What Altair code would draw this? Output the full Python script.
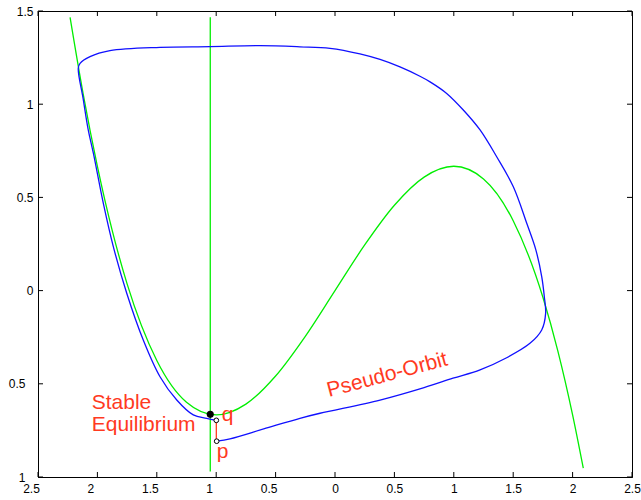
import altair as alt
import pandas as pd

# Cubic nullcline (green)
cubic_x = [-2.23, -2.12, -2.0, -1.875, -1.75, -1.5, -1.25, -1.0, -0.75, -0.5, -0.25,
           0.0, 0.25, 0.5, 0.75, 1.0, 1.25, 1.5, 1.75, 1.875, 2.0, 2.09]
cubic_y = [1.466, 1.056, 0.667, 0.322, 0.036, -0.375, -0.599, -0.667, -0.609, -0.458, -0.245,
           0.0, 0.245, 0.458, 0.609, 0.667, 0.599, 0.375, -0.036, -0.322, -0.667, -0.953]

# Vertical nullcline (green)
vnull_x = -1.05
vnull_y = [-0.97, 1.466]

# Pseudo-orbit (blue), from p around to q
orbit_x = [-0.996, -0.884, -0.60, -0.295, -0.126, 0.379, 0.75, 0.993, 1.221, 1.445,
           1.641, 1.740, 1.773, 1.762, 1.740, 1.69, 1.614, 1.501, 1.361, 1.221,
           1.080, 0.940, 0.800, 0.715, 0.547, 0.379, 0.21, -0.042, -0.295, -0.632,
           -1.052, -1.473, -1.894, -2.062, -2.146, -2.161, -2.12, -2.077, -2.034,
           -1.950, -1.866, -1.753, -1.614, -1.473, -1.332, -1.193, -1.080, -0.999]
orbit_y = [-0.808, -0.795, -0.742, -0.685, -0.658, -0.587, -0.52, -0.47, -0.425, -0.36,
           -0.283, -0.211, -0.122, -0.033, 0.075, 0.22, 0.361, 0.557, 0.718, 0.862,
           0.969, 1.058, 1.120, 1.150, 1.200, 1.240, 1.270, 1.300, 1.308, 1.314,
           1.309, 1.305, 1.287, 1.255, 1.219, 1.193, 1.03, 0.862, 0.737,
           0.468, 0.236, -0.014, -0.265, -0.462, -0.587, -0.667, -0.685, -0.696]

# Special points
eq_point = (-1.05, -0.664)
q_point = (-0.999, -0.696)
p_point = (-0.996, -0.808)

# Annotations
label_text = ["Stable", "Equilibrium", "q", "p"]
label_x = [-2.048, -2.048, -0.954, -0.996]
label_y = [-0.635, -0.753, -0.700, -0.896]
orbit_label = ("Pseudo-Orbit", -0.050, -0.571)

x_ticks = [-2.5, -2.0, -1.5, -1.0, -0.5, 0.0, 0.5, 1.0, 1.5, 2.0, 2.5]
y_ticks = [-1.0, -0.5, 0.0, 0.5, 1.0, 1.5]

W, H = 594, 466
RED = "#ff3a1f"
FONT = "Liberation Sans"

xscale = alt.Scale(domain=[-2.5, 2.5], nice=False, zero=False)
yscale = alt.Scale(domain=[-1.0, 1.5], nice=False, zero=False)

# Tick labels show magnitudes only; labels of negative values sit a little
# further left of their ticks.
x_axis = alt.Axis(
    values=x_ticks, title=None, grid=False, ticks=False, tickSize=0,
    domainColor="black", domainWidth=1, labelFont=FONT, labelFontSize=12,
    labelColor="black", labelPadding=6, labelOverlap=False, labelFlush=False,
    labelExpr="'' + abs(datum.value)",
    labelOffset={"condition": {"test": "datum.value < 0", "value": -7}, "value": 0},
)
y_axis = alt.Axis(
    values=y_ticks, title=None, grid=False, ticks=False, tickSize=0,
    domainColor="black", domainWidth=1, labelFont=FONT, labelFontSize=12,
    labelColor="black", labelOverlap=False, labelFlush=False,
    labelExpr="'' + abs(datum.value)",
    labelPadding={"condition": {"test": "datum.value < 0", "value": 13}, "value": 5},
)


def X(field="x"):
    return alt.X(f"{field}:Q", scale=xscale, axis=x_axis)


def Y(field="y"):
    return alt.Y(f"{field}:Q", scale=yscale, axis=y_axis)


cubic_df = pd.DataFrame({"x": cubic_x, "y": cubic_y})
cubic = alt.Chart(cubic_df).mark_line(
    color="#00ee00", strokeWidth=1.3, interpolate="monotone"
).encode(x=X(), y=Y())

vnull_df = pd.DataFrame({"x": [vnull_x], "y": [vnull_y[0]], "y2": [vnull_y[1]]})
vnull = alt.Chart(vnull_df).mark_rule(color="#00ee00", strokeWidth=1.3).encode(
    x=X(), y=Y(), y2="y2:Q"
)

orbit_df = pd.DataFrame({"x": orbit_x, "y": orbit_y, "i": list(range(len(orbit_x)))})
orbit = alt.Chart(orbit_df).mark_line(
    color="#1010ff", strokeWidth=1.3, interpolate="catmull-rom"
).encode(x=X(), y=Y(), order="i:Q")

seg_df = pd.DataFrame({"x": [q_point[0]], "y": [q_point[1]], "y2": [p_point[1]]})
seg = alt.Chart(seg_df).mark_rule(color=RED, strokeWidth=1.3).encode(
    x=X(), y=Y(), y2="y2:Q"
)

eq_df = pd.DataFrame({"x": [eq_point[0]], "y": [eq_point[1]]})
eq = alt.Chart(eq_df).mark_circle(color="black", size=50, opacity=1).encode(x=X(), y=Y())

open_df = pd.DataFrame({"x": [q_point[0], p_point[0]], "y": [q_point[1], p_point[1]]})
opens = alt.Chart(open_df).mark_circle(
    fill="white", stroke="black", strokeWidth=1, size=22, opacity=1
).encode(x=X(), y=Y())

lab_df = pd.DataFrame({"x": label_x, "y": label_y, "t": label_text})
labels = alt.Chart(lab_df).mark_text(
    color=RED, font=FONT, fontSize=21, align="left", baseline="alphabetic"
).encode(x=X(), y=Y(), text="t:N")

ol_df = pd.DataFrame({"x": [orbit_label[1]], "y": [orbit_label[2]], "t": [orbit_label[0]]})
orbit_text = alt.Chart(ol_df).mark_text(
    color=RED, font=FONT, fontSize=21, align="left", baseline="alphabetic", angle=345
).encode(x=X(), y=Y(), text="t:N")

# Inward-pointing tick marks on all four sides of the frame
xt_df = pd.DataFrame({"x": x_ticks})
yt_df = pd.DataFrame({"y": y_ticks})
tick_len = 5
xt_bottom = alt.Chart(xt_df).mark_rule(color="black", strokeWidth=1).encode(
    x=X(), y=alt.value(H), y2=alt.value(H - tick_len)
)
xt_top = alt.Chart(xt_df).mark_rule(color="black", strokeWidth=1).encode(
    x=X(), y=alt.value(0), y2=alt.value(tick_len)
)
yt_left = alt.Chart(yt_df).mark_rule(color="black", strokeWidth=1).encode(
    y=Y(), x=alt.value(0), x2=alt.value(tick_len)
)
yt_right = alt.Chart(yt_df).mark_rule(color="black", strokeWidth=1).encode(
    y=Y(), x=alt.value(W), x2=alt.value(W - tick_len)
)

chart = alt.layer(
    cubic, vnull, orbit, seg, eq, opens, labels, orbit_text,
    xt_bottom, xt_top, yt_left, yt_right,
).properties(
    width=W, height=H,
    autosize=alt.AutoSizeParams(type="none"),
    padding={"left": 38, "top": 11, "right": 9, "bottom": 23},
    background="white",
).configure_view(stroke="black", strokeWidth=1)

chart.save("out.html", embed_options={"renderer": "svg", "actions": False})
